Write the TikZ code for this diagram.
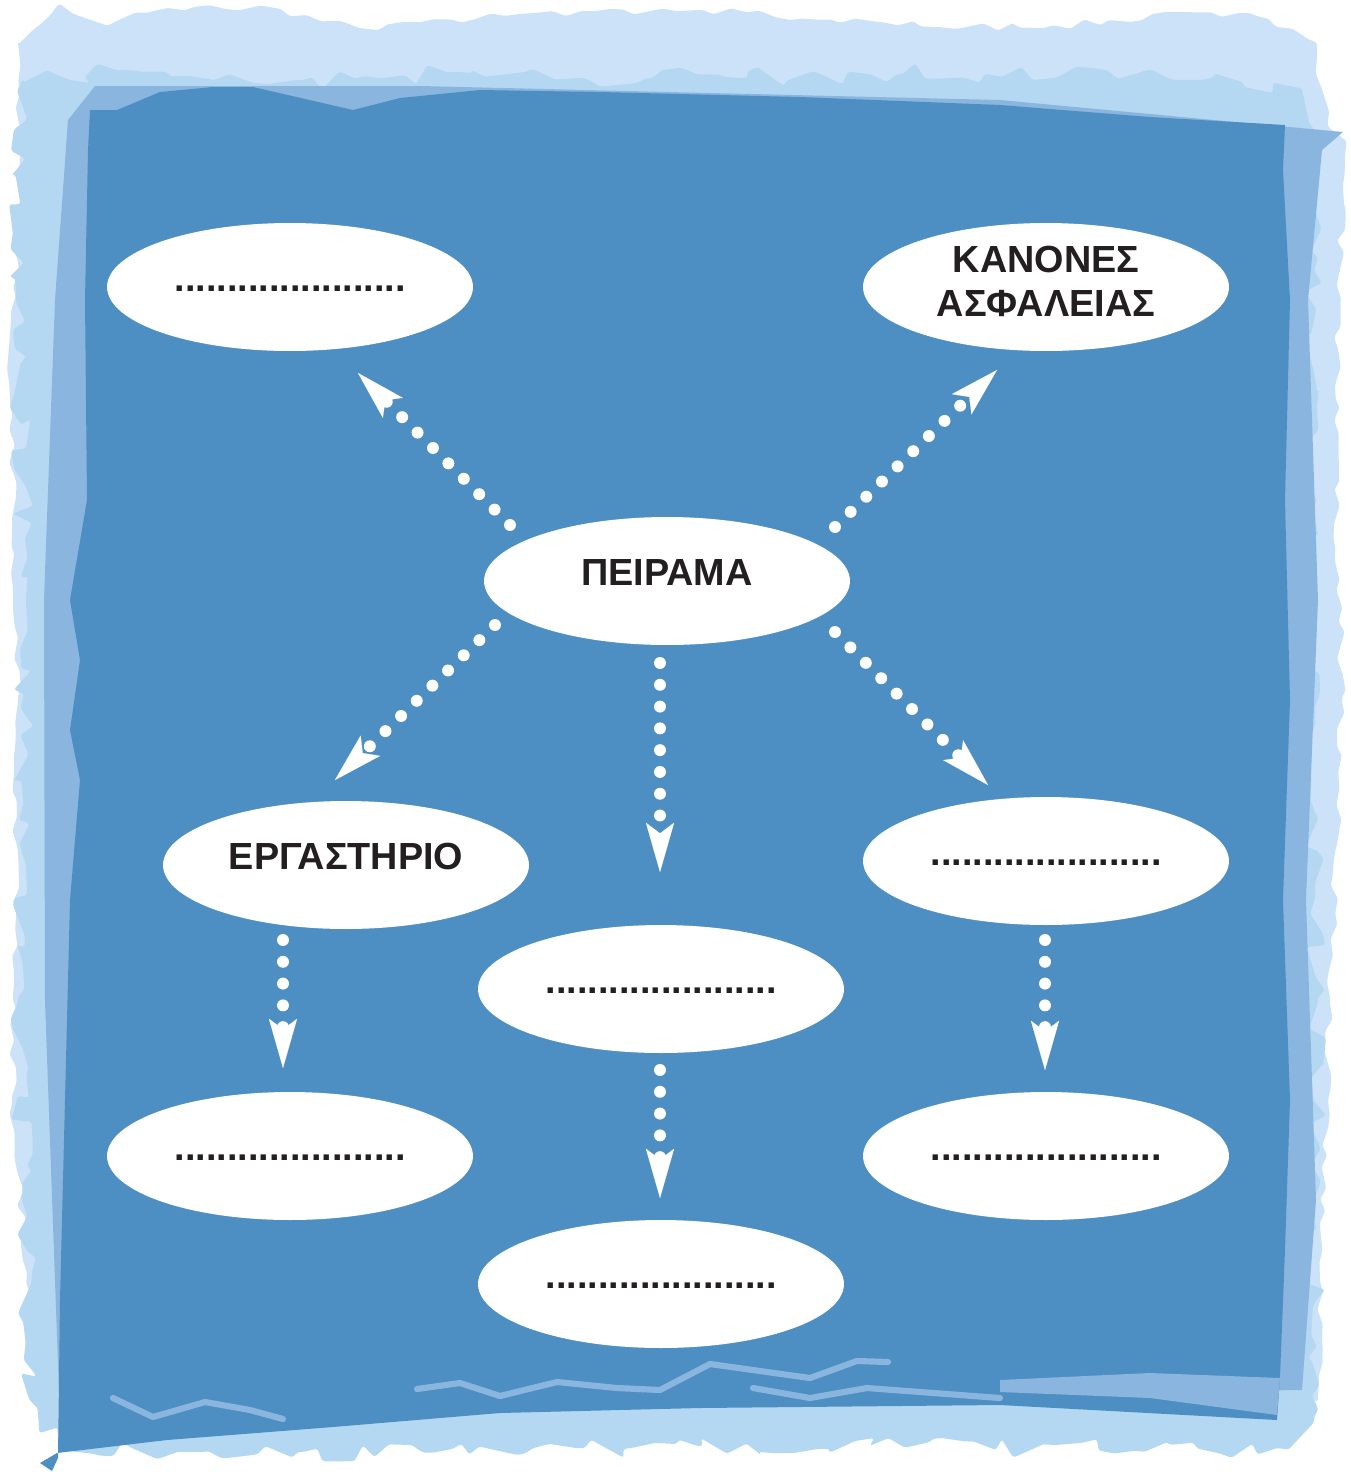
\documentclass[tikz,border=0pt]{standalone}
\usepackage{fontspec}
\setmainfont{Liberation Sans}
\usetikzlibrary{arrows.meta, shapes.geometric, decorations.pathmorphing}
\definecolor{seablue}{HTML}{4E8FC3}
\definecolor{midblue}{HTML}{8AB5DF}
\definecolor{paleblue}{HTML}{B5D8F2}
\definecolor{iceblue}{HTML}{CCE2F8}
\definecolor{inkgray}{HTML}{231F20}

\begin{document}
\begin{tikzpicture}[x=0.02cm,y=-0.02cm]
\tikzstyle{bubble} = [
	shape=ellipse,
	fill=white, %white bubble, no border
	minimum width=7.32cm,
	minimum height=2.56cm,
	inner sep=0pt,
	align=center,
	text=inkgray,
	font=\fontsize{21.5}{24.5}\selectfont\bfseries
];
\tikzstyle{word} = [bubble, text height=12.9pt, text depth=7.8pt];
\tikzstyle{flow} = [
	draw=white,
	line width=6.8pt,
	line cap=round,
	dash pattern=on 0pt off 12.4pt, %round dots
	-{Stealth[length=28pt,width=16pt,inset=6pt,line width=0.01pt]}
];
\tikzstyle{torn} = [decorate, decoration={random steps, segment length=8pt, amplitude=6pt}, rounded corners=1.5pt];
\tikzstyle{streak} = [draw=midblue, line width=3.5pt, line join=round, line cap=round];

\useasboundingbox (0,0) rectangle (1351,1472);
\pgfmathsetseed{11}

%torn paper background
\fill[iceblue, torn, decoration={amplitude=2.5pt}]
	(18,45) -- (58,5) -- (105,25) -- (150,12) -- (260,6) -- (360,28) -- (520,14) -- (700,10)
	-- (880,22) -- (1040,28) -- (1180,12) -- (1265,18) -- (1315,42) -- (1328,125) -- (1345,140)
	-- (1335,420) -- (1342,700) -- (1330,1000) -- (1322,1250) -- (1318,1400) -- (40,1415)
	-- (12,1100) -- (18,700) -- (10,400) -- (20,150) -- cycle;
\fill[paleblue, torn]
	(22,82) -- (120,70) -- (300,80) -- (450,72) -- (650,78) -- (900,74) -- (1150,70) -- (1300,88)
	-- (1316,200) -- (1308,600) -- (1318,1000) -- (1314,1420) -- (1290,1448) -- (700,1446)
	-- (300,1452) -- (60,1448) -- (30,1400) -- (18,1000) -- (26,600) -- (16,300) -- cycle;
\fill[midblue]
	(95,86) -- (420,86) -- (1000,100) -- (1343,132) -- (1322,150) -- (1308,300) -- (1318,600)
	-- (1306,900) -- (1316,1200) -- (1302,1390) -- (900,1395) -- (60,1420) -- (45,1000)
	-- (44,600) -- (55,300) -- (68,120) -- cycle;
\fill[seablue]
	(90,110) -- (117,110) -- (160,92) -- (213,87) -- (253,87) -- (353,110) -- (400,98)
	-- (480,90) -- (600,92) -- (800,97) -- (1000,105) -- (1150,117) -- (1285,125)
	-- (1283,170) -- (1290,300) -- (1285,500) -- (1290,700) -- (1283,900) -- (1290,1100)
	-- (1285,1250) -- (1280,1377) -- (1277,1420) -- (1000,1405) -- (700,1408) -- (500,1413)
	-- (333,1427) -- (167,1440) -- (57,1453) -- (40,1463) -- (52,1471) -- (58,1458)
	-- (60,1300) -- (65,1100) -- (70,900) -- (80,780) -- (70,730) -- (80,660) -- (70,600)
	-- (87,500) -- (85,300) -- (88,150) -- cycle;

%streaks near the bottom
\draw[streak] (113,1398) -- (153,1417) -- (205,1402) -- (250,1410) -- (283,1419);
\draw[streak] (417,1389) -- (460,1383) -- (500,1396) -- (557,1382) -- (617,1388) -- (660,1390)
	-- (710,1364) -- (810,1378) -- (857,1361) -- (888,1362);
\draw[streak] (753,1388) -- (810,1398) -- (867,1388) -- (1000,1398);
\fill[midblue] (1000,1380) -- (1150,1373) -- (1280,1378) -- (1277,1415) -- (1150,1398)
	-- (1000,1392) -- cycle;

%bubbles
\node[word](blankA) at (290,287) {......................};
\node[bubble, text depth=6.5pt](rules) at (1046,287) {ΚΑΝΟΝΕΣ\\ΑΣΦΑΛΕΙΑΣ};
\node[word](peirama) at (667,581) {ΠΕΙΡΑΜΑ};
\node[word](lab) at (346,865) {ΕΡΓΑΣΤΗΡΙΟ};
\node[word](blankB) at (1046,861) {......................};
\node[word](blankC) at (661,989) {......................};
\node[word](blankD) at (290,1156) {......................};
\node[word](blankE) at (1046,1156) {......................};
\node[word](blankF) at (661,1284) {......................};

%dotted arrows
\draw[flow] ([shift={(-157,-56)}]peirama.center) -- ([shift={(68,86)}]blankA.center);
\draw[flow] ([shift={(168,-54)}]peirama.center) -- ([shift={(-49,83)}]rules.center);
\draw[flow] ([shift={(-172,44)}]peirama.center) -- ([shift={(-11,-85)}]lab.center);
\draw[flow] ([shift={(-7,82)}]peirama.center) -- ([shift={(-1,-117)}]blankC.center);
\draw[flow] ([shift={(168,51)}]peirama.center) -- ([shift={(-58,-76)}]blankB.center);
\draw[flow] ([shift={(-63,75)}]lab.center) -- ([shift={(-7,-88)}]blankD.center);
\draw[flow] ([shift={(-1,81)}]blankC.center) -- ([shift={(-1,-86)}]blankF.center);
\draw[flow] ([shift={(-1,79)}]blankB.center) -- ([shift={(-1,-86)}]blankE.center);

\end{tikzpicture}
\end{document}
